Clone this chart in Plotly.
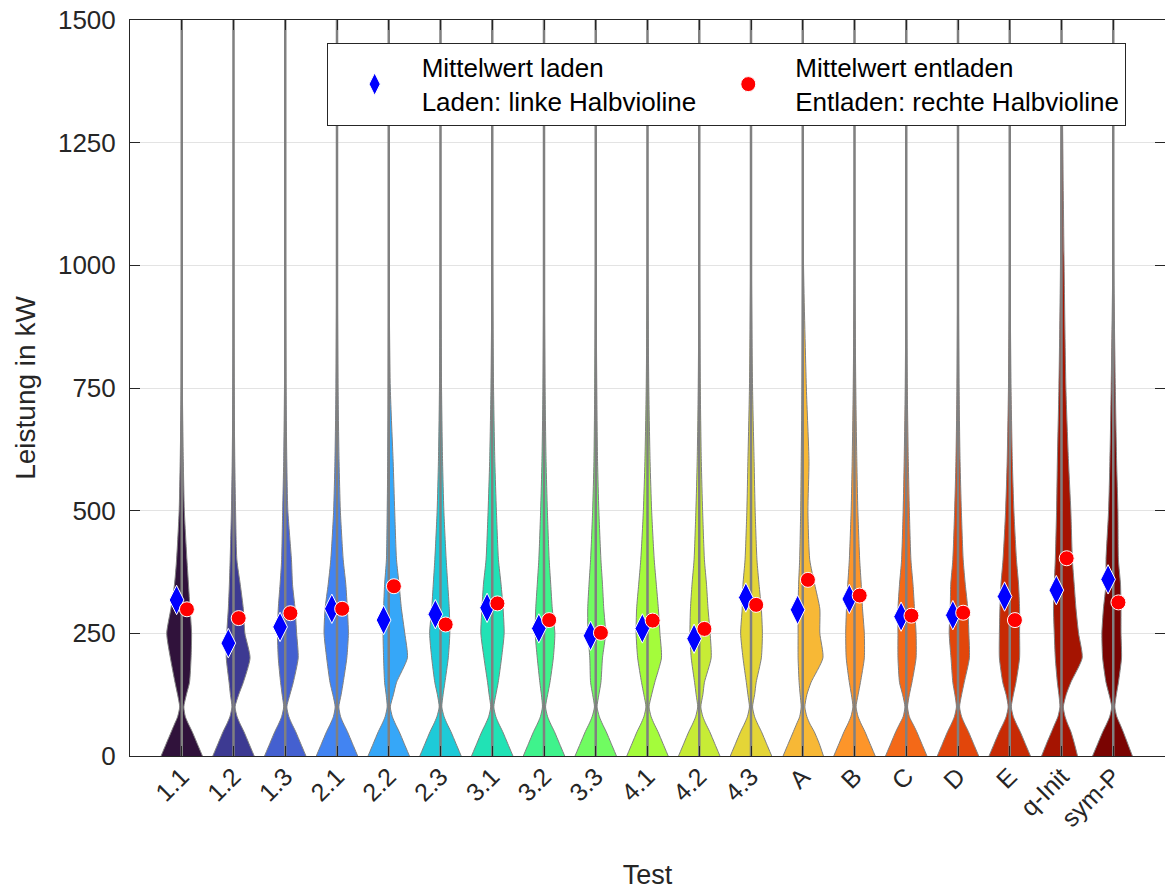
import plotly.graph_objects as go
import plotly.colors as pc
import plotly.express as px

# ---------------- data ----------------
CATS = ["1.1", "1.2", "1.3", "2.1", "2.2", "2.3", "3.1", "3.2", "3.3", "4.1",
        "4.2", "4.3", "A", "B", "C", "D", "E", "q-Init", "sym-P"]

MEAN_LADEN = [318, 230, 263, 300, 277, 289, 302, 260, 245, 260,
              239, 323, 298, 320, 284, 287, 325, 338, 360]
MEAN_ENTLADEN = [299, 281, 291, 300, 346, 268, 311, 277, 251, 276,
                 259, 308, 359, 327, 286, 292, 277, 403, 313]

# power levels (kW) at which the half-violin widths are read
Y_LEVELS = [0, 25, 50, 65, 80, 100, 125, 150, 200, 250, 300, 350, 400, 500, 600, 750, 1000, 1500]

# half-violin widths (in category units) — left = Laden, right = Entladen
LEFT_W = [
    [.40, .30, .20, .14, .08, .04, .08, .13, .22, .29, .21, .14, .10, .05, .03, .012, .004, 0],
    [.40, .30, .20, .13, .07, .03, .06, .085, .14, .13, .10, .08, .065, .04, .025, .012, .004, 0],
    [.40, .30, .20, .13, .07, .03, .06, .09, .135, .15, .135, .10, .07, .05, .03, .015, .005, 0],
    [.40, .30, .20, .13, .07, .035, .08, .135, .20, .25, .23, .17, .12, .065, .04, .02, .006, 0],
    [.40, .30, .20, .13, .07, .03, .05, .08, .10, .11, .10, .08, .045, .03, .02, .01, .003, 0],
    [.40, .30, .20, .13, .07, .025, .06, .11, .17, .21, .17, .14, .11, .065, .04, .02, .005, 0],
    [.40, .30, .20, .13, .07, .03, .06, .09, .16, .22, .20, .17, .12, .08, .05, .025, .006, 0],
    [.40, .30, .20, .13, .07, .03, .05, .08, .13, .17, .16, .13, .10, .065, .04, .02, .005, 0],
    [.40, .30, .20, .13, .07, .025, .06, .10, .115, .15, .155, .13, .10, .06, .035, .02, .005, 0],
    [.40, .30, .20, .13, .07, .03, .07, .115, .19, .22, .21, .17, .13, .08, .05, .025, .006, 0],
    [.40, .30, .20, .13, .07, .03, .06, .09, .155, .18, .17, .14, .10, .065, .04, .02, .005, 0],
    [.40, .30, .20, .13, .07, .03, .06, .09, .155, .20, .17, .155, .115, .08, .06, .03, .008, 0],
    [.38, .28, .18, .12, .06, .03, .05, .07, .09, .09, .09, .08, .06, .04, .03, .015, .004, 0],
    [.40, .30, .20, .13, .07, .03, .06, .10, .16, .17, .155, .13, .10, .065, .045, .025, .006, 0],
    [.40, .30, .20, .13, .06, .025, .07, .13, .16, .16, .16, .13, .09, .06, .04, .02, .005, 0],
    [.40, .30, .20, .13, .07, .03, .06, .10, .135, .17, .15, .14, .10, .065, .04, .02, .005, 0],
    [.40, .30, .20, .13, .07, .03, .07, .135, .20, .20, .19, .17, .13, .08, .05, .025, .006, 0],
    [.385, .29, .19, .13, .07, .03, .05, .08, .12, .14, .155, .14, .12, .095, .08, .05, .02, 0],
    [.40, .30, .20, .13, .07, .03, .08, .14, .205, .22, .19, .14, .14, .09, .065, .04, .01, 0],
]
RIGHT_W = [
    [.40, .30, .20, .13, .07, .04, .09, .15, .18, .19, .16, .13, .10, .05, .03, .012, .004, 0],
    [.40, .30, .20, .13, .07, .03, .10, .19, .32, .22, .19, .13, .065, .04, .025, .012, .004, 0],
    [.40, .30, .20, .13, .07, .03, .09, .155, .25, .22, .19, .14, .12, .05, .03, .015, .005, 0],
    [.40, .30, .20, .13, .07, .035, .08, .12, .19, .22, .20, .17, .12, .065, .04, .02, .006, 0],
    [.40, .30, .20, .13, .07, .03, .09, .15, .36, .31, .245, .20, .15, .115, .085, .03, .006, 0],
    [.40, .30, .20, .13, .07, .025, .05, .085, .15, .18, .17, .14, .11, .065, .04, .02, .005, 0],
    [.40, .30, .20, .13, .07, .03, .07, .115, .18, .23, .21, .17, .12, .08, .05, .025, .006, 0],
    [.40, .30, .20, .13, .07, .03, .07, .115, .18, .21, .16, .13, .10, .065, .04, .02, .005, 0],
    [.40, .30, .20, .13, .07, .025, .06, .10, .13, .19, .155, .13, .10, .06, .035, .02, .005, 0],
    [.40, .30, .20, .13, .07, .03, .08, .14, .27, .24, .21, .17, .13, .08, .05, .025, .006, 0],
    [.40, .30, .20, .13, .07, .03, .07, .10, .23, .21, .17, .14, .10, .065, .04, .02, .005, 0],
    [.40, .30, .20, .13, .07, .03, .07, .10, .20, .22, .20, .155, .115, .08, .06, .03, .008, 0],
    [.40, .32, .22, .14, .08, .04, .08, .16, .39, .33, .33, .23, .135, .10, .12, .07, .015, 0],
    [.40, .30, .20, .13, .07, .03, .07, .115, .19, .19, .155, .13, .10, .065, .045, .025, .006, 0],
    [.40, .30, .20, .13, .06, .025, .06, .11, .19, .19, .16, .13, .09, .06, .04, .02, .005, 0],
    [.40, .30, .20, .13, .07, .03, .07, .12, .22, .21, .19, .14, .10, .065, .04, .02, .005, 0],
    [.40, .30, .20, .13, .07, .03, .07, .12, .19, .19, .19, .17, .13, .08, .05, .025, .006, 0],
    [.31, .25, .18, .12, .07, .035, .09, .18, .40, .33, .28, .245, .21, .18, .135, .085, .05, 0],
    [.37, .28, .19, .13, .07, .03, .06, .10, .16, .15, .15, .14, .10, .09, .065, .04, .01, 0],
]

Y_TICKS = [0, 250, 500, 750, 1000, 1250, 1500]

# ---------------- style ----------------
FONT = "Liberation Sans, Arial, Helvetica, sans-serif"
AXIS_COLOR = "#262626"
OUTLINE = "#808080"
turbo = pc.make_colorscale(px.colors.sequential.Turbo)
COLORS = pc.sample_colorscale(turbo, [k / (len(CATS) - 1) for k in range(len(CATS))])
MARKER_OFFSET = 0.1

fig = go.Figure()
xpos = list(range(1, len(CATS) + 1))

for i, xc in enumerate(xpos):
    for side, widths in ((-1, LEFT_W[i]), (1, RIGHT_W[i])):
        xs = [xc + side * w for w in widths] + [xc, xc]
        ys = Y_LEVELS + [Y_LEVELS[-1], Y_LEVELS[0]]
        fig.add_trace(go.Scatter(
            x=xs, y=ys, mode="lines", fill="toself", fillcolor=COLORS[i],
            line=dict(color=OUTLINE, width=1, shape="spline", smoothing=0.6),
            hoverinfo="skip", showlegend=False))

# centre lines through each violin
cx, cy = [], []
for xc in xpos:
    cx += [xc, xc, None]
    cy += [Y_LEVELS[0], Y_LEVELS[-1], None]
fig.add_trace(go.Scatter(x=cx, y=cy, mode="lines", line=dict(color=OUTLINE, width=2.5),
                         hoverinfo="skip", showlegend=False))

fig.add_trace(go.Scatter(
    x=[x - MARKER_OFFSET for x in xpos], y=MEAN_LADEN, mode="markers",
    marker=dict(symbol="diamond-tall", size=21, color="#0000ff", line=dict(color="white", width=1)),
    name="Mittelwert laden<br>Laden: linke Halbvioline"))
fig.add_trace(go.Scatter(
    x=[x + MARKER_OFFSET for x in xpos], y=MEAN_ENTLADEN, mode="markers",
    marker=dict(symbol="circle", size=15, color="#ff0000", line=dict(color="white", width=1)),
    name="Mittelwert entladen<br>Entladen: rechte Halbvioline"))

fig.update_layout(
    width=1165, height=890,
    margin=dict(l=130, r=0, t=20, b=134),
    plot_bgcolor="white", paper_bgcolor="white",
    font=dict(family=FONT, color=AXIS_COLOR),
    legend=dict(
        orientation="h", x=0.19, y=0.969, xanchor="left", yanchor="top",
        bgcolor="white", bordercolor=AXIS_COLOR, borderwidth=1,
        font=dict(size=26, color="black"), itemwidth=84),
    xaxis=dict(
        range=[0, len(CATS) + 1], tickmode="array", tickvals=xpos, ticktext=CATS,
        tickangle=-45, ticks="inside", ticklen=10, tickcolor=AXIS_COLOR,
        showline=True, linecolor=AXIS_COLOR, linewidth=1, mirror="ticks",
        showgrid=False, zeroline=False, tickfont=dict(size=25), automargin=False,
        ticklabelstandoff=-5,
        title=dict(text="Test", font=dict(size=27), standoff=35)),
    yaxis=dict(
        range=[Y_TICKS[0], Y_TICKS[-1]], tickmode="array", tickvals=Y_TICKS,
        ticks="inside", ticklen=10, tickcolor=AXIS_COLOR,
        showline=True, linecolor=AXIS_COLOR, linewidth=1, mirror="ticks",
        showgrid=True, gridcolor="#e3e3e3", zeroline=False, tickfont=dict(size=26),
        ticklabelstandoff=8, automargin=False, ticklabeloverflow="allow",
        title=dict(text="Leistung in kW", font=dict(size=28), standoff=14)),
)

# remove the default 8 px page margin so the figure fills the window exactly
fig.write_html("out.html", config={"displayModeBar": False},
               post_script="document.body.style.margin='0';")
